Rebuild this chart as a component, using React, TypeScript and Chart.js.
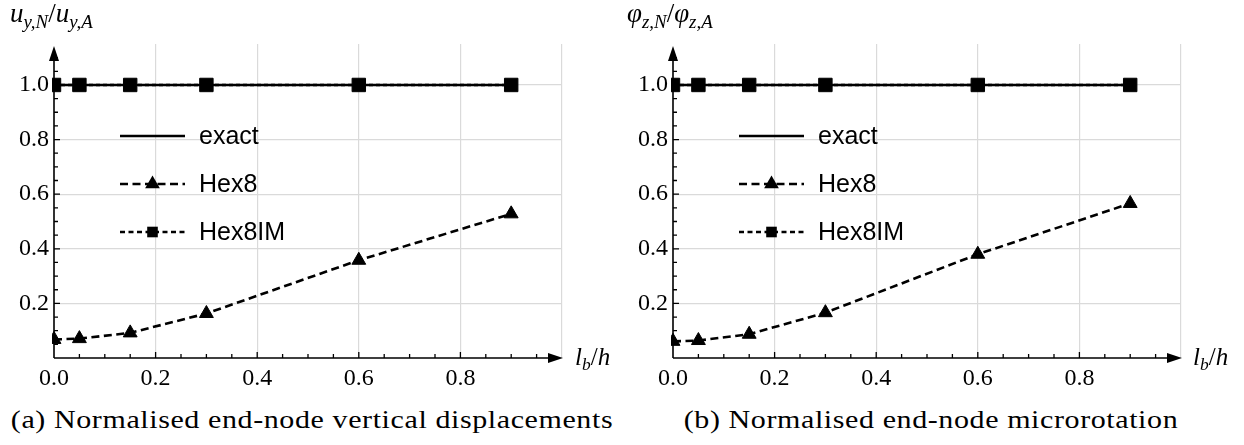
import React, { useEffect, useRef } from 'react';
import { Chart, registerables } from 'chart.js';

Chart.register(...registerables);

// ---------- data ----------
const xValues = [0, 0.05, 0.15, 0.3, 0.6, 0.9];
const exactA = [1, 1, 1, 1, 1, 1];
const hex8A = [0.068, 0.071, 0.092, 0.163, 0.358, 0.528];
const hex8imA = [1, 1, 1, 1, 1, 1];
const exactB = [1, 1, 1, 1, 1, 1];
const hex8B = [0.061, 0.064, 0.087, 0.166, 0.38, 0.566];
const hex8imB = [1, 1, 1, 1, 1, 1];
const seriesLabels = ['exact', 'Hex8', 'Hex8IM'];
const xTickLabels = ['0.0', '0.2', '0.4', '0.6', '0.8'];
const yTickLabels = ['0.2', '0.4', '0.6', '0.8', '1.0'];
const captionA = '(a) Normalised end-node vertical displacements';
const captionB = '(b) Normalised end-node microrotation';

const SERIF = '"Liberation Serif", "Times New Roman", serif';
const SANS = '"Liberation Sans", Arial, sans-serif';
const GRID = '#dadada';

const toPts = (ys: number[]) => xValues.map((x, i) => ({ x, y: ys[i] }));

const isMajor = (v: number) => {
  const r = Math.round(v * 100);
  return r > 0 && r % 20 === 0;
};

function drawMarker(ctx: CanvasRenderingContext2D, style: string, x: number, y: number, r: number) {
  ctx.beginPath();
  if (style === 'triangle') {
    ctx.moveTo(x, y - r);
    ctx.lineTo(x + r * 0.866, y + r / 2);
    ctx.lineTo(x - r * 0.866, y + r / 2);
    ctx.closePath();
  } else {
    const s = r * Math.SQRT1_2;
    ctx.rect(x - s, y - s, 2 * s, 2 * s);
  }
  ctx.fillStyle = '#000';
  ctx.fill();
}

const axesPlugin = {
  id: 'arrowAxes',
  beforeDatasetsDraw(chart: any) {
    const ctx = chart.ctx as CanvasRenderingContext2D;
    const { left, right, top, bottom } = chart.chartArea;
    const xs = chart.scales.x;
    const ys = chart.scales.y;
    ctx.save();
    ctx.strokeStyle = '#000';
    ctx.fillStyle = '#000';
    ctx.lineWidth = 1.3;
    ctx.beginPath();
    xs.ticks.forEach((t: any) => {
      const px = xs.getPixelForValue(t.value);
      if (t.value <= 0 || px > right - 12) return;
      const len = isMajor(t.value) ? 6 : 4;
      ctx.moveTo(px, bottom);
      ctx.lineTo(px, bottom - len);
    });
    ys.ticks.forEach((t: any) => {
      const py = ys.getPixelForValue(t.value);
      if (t.value <= 0 || py < top + 12) return;
      const len = isMajor(t.value) ? 6 : 4;
      ctx.moveTo(left, py);
      ctx.lineTo(left + len, py);
    });
    ctx.stroke();
    ctx.lineWidth = 1.6;
    ctx.beginPath();
    ctx.moveTo(left, bottom);
    ctx.lineTo(right - 6, bottom);
    ctx.moveTo(left, bottom);
    ctx.lineTo(left, top + 6);
    ctx.stroke();
    ctx.beginPath();
    ctx.moveTo(right + 1, bottom);
    ctx.lineTo(right - 14, bottom - 5);
    ctx.lineTo(right - 14, bottom + 5);
    ctx.closePath();
    ctx.fill();
    ctx.beginPath();
    ctx.moveTo(left, top + 2);
    ctx.lineTo(left - 5, top + 17);
    ctx.lineTo(left + 5, top + 17);
    ctx.closePath();
    ctx.fill();
    ctx.restore();
  },
  afterDatasetsDraw(chart: any) {
    const ctx = chart.ctx as CanvasRenderingContext2D;
    const { left, top } = chart.chartArea;
    ctx.save();
    chart.data.datasets.forEach((ds: any, i: number) => {
      const y = top + 92 + i * 48;
      const x0 = left + 66;
      const x1 = left + 131;
      ctx.strokeStyle = '#000';
      ctx.lineWidth = ds.borderWidth;
      ctx.setLineDash(ds.legendDash || []);
      ctx.beginPath();
      ctx.moveTo(x0, y);
      ctx.lineTo(x1, y);
      ctx.stroke();
      ctx.setLineDash([]);
      if (ds.pointRadius > 0) {
        drawMarker(ctx, ds.pointStyle, (x0 + x1) / 2, y, ds.pointStyle === 'triangle' ? 8.5 : 7.5);
      }
      ctx.fillStyle = '#000';
      ctx.font = `25px ${SANS}`;
      ctx.textBaseline = 'middle';
      ctx.textAlign = 'left';
      ctx.fillText(ds.label, x1 + 14, y + 1);
    });
    ctx.restore();
  },
};

function makeConfig(exact: number[], hex8: number[], hex8im: number[], axisW: number, padRight: number) {
  const tickFont = { family: SERIF, size: 24 };
  return {
    type: 'line' as const,
    data: {
      datasets: [
        {
          label: seriesLabels[0],
          data: toPts(exact),
          borderColor: '#000',
          borderWidth: 2.6,
          pointRadius: 0,
          pointStyle: 'circle',
          legendDash: [],
          clip: 2,
        },
        {
          label: seriesLabels[1],
          data: toPts(hex8),
          borderColor: '#000',
          backgroundColor: '#000',
          borderWidth: 2.6,
          borderDash: [8, 4.5],
          legendDash: [8, 4.5],
          pointStyle: 'triangle',
          pointRadius: 8,
          pointBorderWidth: 1,
          pointBackgroundColor: '#000',
          pointBorderColor: '#000',
          clip: 2,
        },
        {
          label: seriesLabels[2],
          data: toPts(hex8im),
          borderColor: '#000',
          backgroundColor: '#000',
          borderWidth: 2.4,
          borderDash: [4, 3],
          legendDash: [5, 3.5],
          pointStyle: 'rect',
          pointRadius: 9.5,
          pointBorderWidth: 1,
          pointBackgroundColor: '#000',
          pointBorderColor: '#000',
          clip: 2,
        },
      ],
    },
    options: {
      animation: false as const,
      responsive: false,
      devicePixelRatio: 1,
      layout: { padding: { top: 44, right: padRight, left: 0, bottom: 0 } },
      plugins: { legend: { display: false }, tooltip: { enabled: false } },
      elements: { line: { tension: 0 } },
      scales: {
        x: {
          type: 'linear' as const,
          min: 0,
          max: 1.0,
          afterFit: (s: any) => { s.height = 42; },
          border: { display: false },
          grid: {
            drawTicks: false,
            lineWidth: 1.2,
            color: (c: any) => (c.tick && isMajor(c.tick.value) ? GRID : 'rgba(0,0,0,0)'),
          },
          ticks: {
            stepSize: 0.05,
            maxTicksLimit: 1000,
            autoSkip: false,
            maxRotation: 0,
            padding: 6,
            color: '#000',
            font: tickFont,
            callback: (v: number) => {
              const r = Math.round(v * 100);
              if (r % 20 !== 0) return '';
              const s = (r / 100).toFixed(1);
              return xTickLabels.includes(s) ? s : '';
            },
          },
        },
        y: {
          type: 'linear' as const,
          min: 0,
          max: 1.15,
          afterFit: (s: any) => { s.width = axisW; },
          border: { display: false },
          grid: {
            drawTicks: false,
            lineWidth: 1.2,
            color: (c: any) => (c.tick && isMajor(c.tick.value) ? GRID : 'rgba(0,0,0,0)'),
          },
          ticks: {
            stepSize: 0.05,
            maxTicksLimit: 1000,
            autoSkip: false,
            padding: 5,
            color: '#000',
            font: tickFont,
            callback: (v: number) => {
              const r = Math.round(v * 100);
              if (r % 20 !== 0) return '';
              const s = (r / 100).toFixed(1);
              return yTickLabels.includes(s) ? s : '';
            },
          },
        },
      },
    },
    plugins: [axesPlugin],
  };
}

const subStyle: React.CSSProperties = {
  fontSize: '0.7em',
  position: 'relative',
  top: '0.3em',
  fontStyle: 'italic',
};

export default function App() {
  const leftRef = useRef<HTMLCanvasElement | null>(null);
  const rightRef = useRef<HTMLCanvasElement | null>(null);

  useEffect(() => {
    const c1 = new Chart(leftRef.current as HTMLCanvasElement, makeConfig(exactA, hex8A, hex8imA, 54, 58) as any);
    const c2 = new Chart(rightRef.current as HTMLCanvasElement, makeConfig(exactB, hex8B, hex8imB, 53, 63) as any);
    return () => {
      c1.destroy();
      c2.destroy();
    };
  }, []);

  const titleStyle: React.CSSProperties = {
    position: 'absolute',
    fontFamily: SERIF,
    fontSize: 27,
    lineHeight: '27px',
    whiteSpace: 'nowrap',
    color: '#000',
  };
  const xTitleStyle: React.CSSProperties = {
    ...titleStyle,
    fontSize: 25,
    lineHeight: '25px',
  };
  const captionStyle: React.CSSProperties = {
    position: 'absolute',
    fontFamily: SERIF,
    fontSize: 25,
    lineHeight: '28px',
    whiteSpace: 'nowrap',
    textAlign: 'center',
    color: '#000',
    letterSpacing: '0.5px',
    transform: 'scaleX(1.2)',
    transformOrigin: 'center',
  };

  return (
    <div style={{ position: 'absolute', left: 0, top: 0, width: 1244, height: 445, background: '#fff', overflow: 'hidden' }}>
      <canvas ref={leftRef} width={620} height={400} style={{ position: 'absolute', left: 0, top: 0, width: 620, height: 400 }} />
      <canvas ref={rightRef} width={624} height={400} style={{ position: 'absolute', left: 620, top: 0, width: 624, height: 400 }} />

      <div style={{ ...titleStyle, left: 10, top: 0 }}>
        <i>u</i><span style={subStyle}>y,N</span>/<i>u</i><span style={subStyle}>y,A</span>
      </div>
      <div style={{ ...titleStyle, left: 627, top: 0 }}>
        <i>φ</i><span style={subStyle}>z,N</span>/<i>φ</i><span style={subStyle}>z,A</span>
      </div>
      <div style={{ ...xTitleStyle, left: 575, top: 344 }}>
        <i>l</i><span style={subStyle}>b</span>/<i>h</i>
      </div>
      <div style={{ ...xTitleStyle, left: 1193, top: 344 }}>
        <i>l</i><span style={subStyle}>b</span>/<i>h</i>
      </div>

      <div style={{ ...captionStyle, left: 12, width: 600, top: 406 }}>{captionA}</div>
      <div style={{ ...captionStyle, left: 682, width: 498, top: 406 }}>{captionB}</div>
    </div>
  );
}
